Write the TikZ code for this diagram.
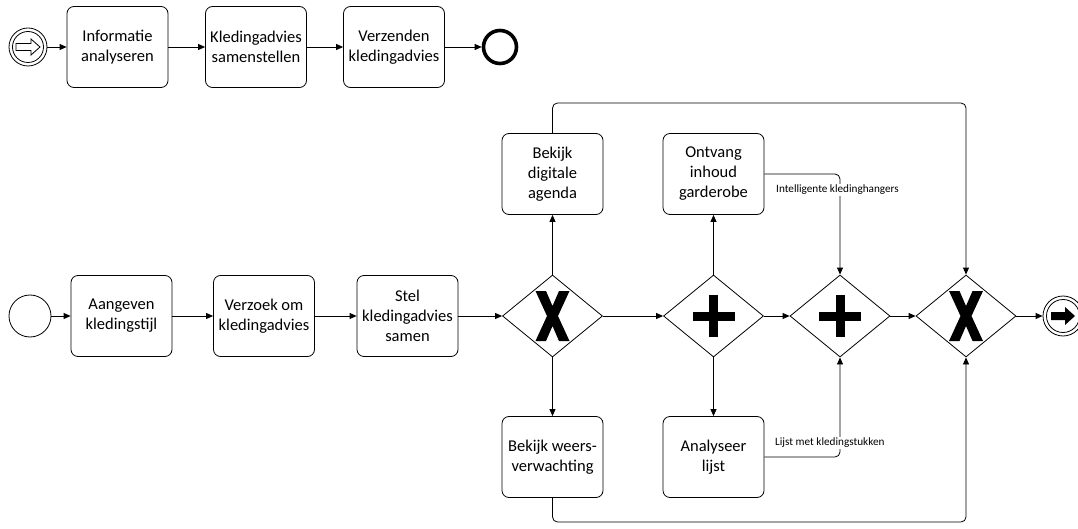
\documentclass[tikz,border=0pt]{standalone}
\usepackage{fontspec}
\setmainfont{Carlito}
\usetikzlibrary{shapes.geometric,arrows.meta}

\begin{document}
\begin{tikzpicture}[x=1pt,y=-1pt,
  task/.style={draw,rounded corners=7pt,minimum width=101pt,minimum height=81pt,
    align=center,font=\fontsize{16.5}{20}\selectfont,inner sep=0pt,line width=0.8pt},
  gate/.style={draw,diamond,minimum width=100pt,minimum height=82pt,inner sep=0pt,line width=0.8pt},
  flow/.style={line width=0.8pt,-{Triangle[length=7pt,width=6pt]}},
  route/.style={flow,rounded corners=5pt},
  lbl/.style={font=\fontsize{11.2}{13}\selectfont,fill=white,inner sep=1pt,anchor=west},
  evt/.style={draw,circle,inner sep=0pt,line width=0.8pt},
]
\useasboundingbox (0,0) rectangle (1078,529);

% ---------- upper process ----------
\node[evt,minimum size=38pt] (s1) at (28,47) {};
\node[evt,minimum size=31pt] (s1i) at (28,47) {};
\draw[line width=0.8pt,line join=miter] (s1) ++(-12,-3.5) -- ++(15,0) -- ++(0,-4.5) -- ++(9,8)
  -- ++(-9,8) -- ++(0,-4.5) -- ++(-15,0) -- cycle;
\node[task] (b1) at (117.5,47) {Informatie\\analyseren};
\node[task] (b2) at (256,47) {Kledingadvies\\samenstellen};
\node[task] (b3) at (394,47) {Verzenden\\kledingadvies};
\node[draw,circle,inner sep=0pt,minimum size=33pt,line width=3.6pt] (e1) at (500,47) {};

\draw[flow] (s1) -- (b1);
\draw[flow] (b1) -- (b2);
\draw[flow] (b2) -- (b3);
\draw[flow] (b3) -- (e1);

% ---------- lower process ----------
\node[evt,minimum size=42pt] (s2) at (30,316) {};
\node[task] (a1) at (121.5,316) {Aangeven\\kledingstijl};
\node[task] (a2) at (264,316) {Verzoek om\\kledingadvies};
\node[task] (a3) at (407.5,316) {Stel\\kledingadvies\\samen};

\node[gate] (g1) at (552.5,316) {};
\node[gate] (g2) at (713.5,316) {};
\node[gate] (g3) at (840,316) {};
\node[gate] (g4) at (966,316) {};

% exclusive markers
\foreach \g in {g1,g4}
  \fill (\g) ++(-17,-25) -- ++(10.5,0) -- ++(6.5,15) -- ++(6.5,-15) -- ++(10.5,0)
    -- ++(-11.5,25) -- ++(11.5,25) -- ++(-10.5,0) -- ++(-6.5,-15) -- ++(-6.5,15)
    -- ++(-10.5,0) -- ++(11.5,-25) -- cycle;
% parallel markers
\foreach \g in {g2,g3} {
  \fill (\g) ++(-21,-4.5) rectangle ++(42,9);
  \fill (\g) ++(-4.5,-21) rectangle ++(9,42);
}

\node[evt,minimum size=40pt] (e2) at (1063,316) {};
\node[evt,minimum size=33pt] (e2i) at (1063,316) {};
\fill (e2) ++(-12,-4) -- ++(14,0) -- ++(0,-5) -- ++(10,9) -- ++(-10,9) -- ++(0,-5) -- ++(-14,0) -- cycle;

\node[task] (t1) at (552.5,174) {Bekijk\\digitale\\agenda};
\node[task] (t2) at (713.5,174) {Ontvang\\inhoud\\garderobe};
\node[task] (u1) at (552.5,457) {Bekijk weers-\\verwachting};
\node[task] (u2) at (713.5,457) {Analyseer\\lijst};

\draw[flow] (s2) -- (a1);
\draw[flow] (a1) -- (a2);
\draw[flow] (a2) -- (a3);
\draw[flow] (a3) -- (g1);
\draw[flow] (g1) -- (g2);
\draw[flow] (g2) -- (g3);
\draw[flow] (g3) -- (g4);
\draw[flow] (g4) -- (e2);

\draw[flow] (g1.north) -- (t1.south);
\draw[flow] (g1.south) -- (u1.north);
\draw[flow] (g2.north) -- (t2.south);
\draw[flow] (g2.south) -- (u2.north);

\coordinate (topy) at (0,103);
\coordinate (boty) at (0,522);
\draw[route] (t1.north) -- (t1.north |- topy) -- (g4.north |- topy) -- (g4.north);
\draw[route] (u1.south) -- (u1.south |- boty) -- (g4.south |- boty) -- (g4.south);

\draw[route] (t2.east) -- (t2.east -| g3.north) -- (g3.north);
\draw[route] (u2.east) -- (u2.east -| g3.south) -- (g3.south);

\node[lbl] (l1) at (775,190) {Intelligente kledinghangers};
\node[lbl] (l2) at (774,443) {Lijst met kledingstukken};

\end{tikzpicture}
\end{document}
